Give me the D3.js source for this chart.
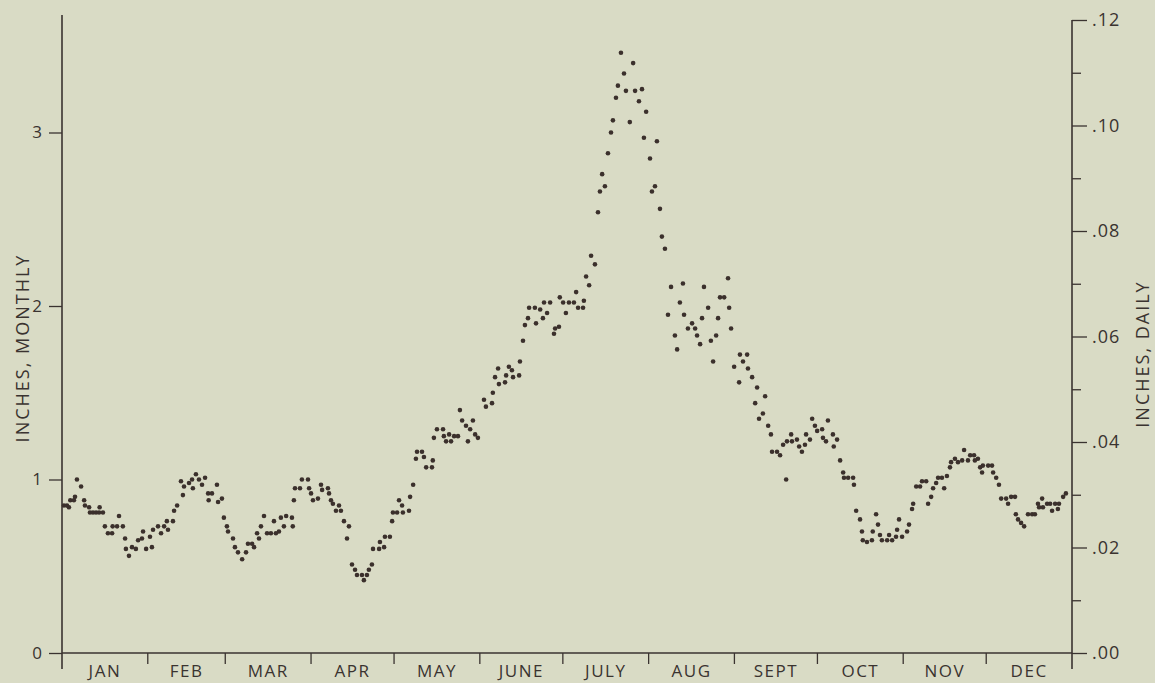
<!DOCTYPE html>
<html>
<head>
<meta charset="utf-8">
<script src="https://cdn.jsdelivr.net/npm/d3@7"></script>
<style>
  html, body { margin: 0; padding: 0; background: #d9dbc5; }
  svg { display: block; }
  text { font-family: "Open Sans", "DejaVu Sans", sans-serif; fill: #3a3330; }
</style>
</head>
<body>
<svg id="chart" width="1155" height="683"></svg>
<script>
// Day of year (position) for each plotted dot
const days = [
  0.7,1.8,2.5,3.0,4.3,4.7,5.4,6.9,8.0,8.3,9.8,10.1,11.2,12.3,13.4,13.6,14.8,15.5,16.6,18.1,18.3,19.9,20.6,22.0,22.8,23.1,24.2,25.3,26.7,27.5,28.9,29.3,30.4,31.8,32.5,32.9,34.7,35.8,36.9,37.9,38.3,40.1,40.5,41.6,43.0,43.7,44.1,45.9,47.0,47.3,48.4,49.5,
  50.6,51.7,52.8,53.0,54.2,56.0,56.4,57.8,58.5,59.6,60.0,61.8,62.5,63.6,65.1,66.5,67.2,68.7,69.4,70.5,71.2,71.9,73.0,74.1,75.5,76.6,77.3,78.4,79.1,80.2,81.0,83.1,83.4,83.8,84.2,86.0,86.7,88.9,89.3,90.0,90.7,92.5,93.6,94.0,96.1,96.5,97.2,97.9,99.0,100.1,
  100.8,101.9,103.0,103.7,104.8,105.9,106.6,108.4,109.1,110.2,110.9,112.0,112.4,114.6,114.9,116.4,116.7,118.5,119.3,119.6,121.1,121.8,122.9,123.2,125.4,125.8,126.9,127.9,128.3,130.1,130.8,131.6,133.7,134.0,134.4,135.5,137.7,138.0,138.8,139.9,140.6,141.7,143.1,143.8,144.6,146.0,146.7,147.5,148.5,149.3,150.3,
  152.5,153.2,155.4,155.7,156.5,157.6,157.9,160.1,160.5,161.5,162.6,163.0,165.2,165.5,166.6,167.3,168.4,168.8,170.9,171.3,172.8,173.8,174.2,175.3,176.4,177.8,178.2,179.6,179.9,
  181.1,182.1,183.2,185.0,185.8,186.5,188.3,188.6,189.4,190.5,191.2,192.6,193.7,194.4,195.2,196.2,197.3,198.4,199.1,200.2,200.9,202.0,203.1,203.8,205.2,206.4,207.1,208.5,209.6,210.3,211.1,212.5,213.2,214.3,215.0,216.1,
  216.8,217.9,219.0,220.1,221.5,222.3,223.3,224.4,224.8,226.2,227.7,228.8,229.5,230.6,231.3,232.0,233.5,234.5,235.3,236.4,237.1,237.8,239.3,240.7,241.1,241.8,242.9,244.7,245.0,246.1,247.6,247.9,249.4,250.5,251.2,251.9,
  253.3,254.1,255.2,256.2,256.6,258.4,259.5,260.6,261.7,262.0,263.5,263.8,265.6,266.4,267.4,268.5,268.9,270.3,271.1,272.1,272.9,274.7,275.0,276.1,276.8,278.6,278.9,280.1,281.2,282.3,282.6,284.1,285.9,286.2,287.0,288.4,289.1,289.4,290.9,292.7,293.0,294.2,294.9,295.6,296.3,298.2,298.9,300.0,301.4,301.8,302.5,
  303.6,305.4,306.1,307.2,307.6,308.7,310.1,310.8,312.3,313.0,314.1,314.8,315.9,316.6,318.0,318.8,319.8,320.9,321.3,322.7,323.8,325.3,326.0,327.4,328.2,329.6,329.9,331.0,331.8,332.5,332.8,334.7,336.1,336.5,337.6,338.6,339.4,341.2,341.9,343.0,344.4,344.7,345.5,346.6,347.7,349.1,350.6,351.6,352.7,353.1,354.2,354.5,356.0,357.1,357.8,358.9,359.9,360.3,361.8,362.8
];

// Precipitation, inches on the monthly scale (left axis)
const monthly = [
  .85,.85,.84,.88,.88,.90,1.00,.96,.88,.85,.84,.81,.81,.81,.81,.84,.81,.73,.69,.69,.73,.73,.79,.73,.66,.60,.56,.61,.60,.65,.66,.70,.60,.67,.61,.71,.73,.69,.73,.76,.71,.76,.82,.85,.99,.91,.96,.98,1.00,.95,1.03,1.00,
  .97,1.01,.92,.88,.92,.97,.87,.89,.78,.73,.70,.66,.61,.58,.54,.58,.63,.63,.61,.69,.66,.73,.79,.69,.69,.76,.69,.70,.78,.73,.79,.78,.73,.88,.95,.95,1.00,1.00,.95,.92,.88,.89,.97,.94,.95,.92,.88,.86,.82,.85,
  .82,.76,.66,.73,.51,.48,.45,.45,.42,.45,.48,.51,.60,.60,.64,.61,.67,.67,.76,.81,.81,.88,.85,.81,.82,.90,.97,1.12,1.16,1.16,1.13,1.07,1.07,1.11,1.24,1.29,1.29,1.25,1.22,1.26,1.22,1.25,1.25,1.40,1.34,1.31,1.22,1.29,1.34,1.26,1.24,
  1.46,1.42,1.44,1.50,1.59,1.64,1.55,1.56,1.60,1.65,1.63,1.59,1.60,1.68,1.80,1.89,1.93,1.99,1.99,1.90,1.98,1.93,2.02,1.96,2.02,1.84,1.87,1.88,2.05,
  2.02,1.96,2.02,2.02,2.08,1.99,1.99,2.03,2.17,2.12,2.29,2.24,2.54,2.66,2.76,2.69,2.88,3.00,3.07,3.20,3.27,3.46,3.34,3.24,3.06,3.40,3.24,3.18,3.25,2.97,3.12,2.85,2.66,2.69,2.95,2.56,
  2.40,2.33,1.95,2.11,1.83,1.75,2.02,2.13,1.95,1.87,1.90,1.87,1.83,1.78,1.93,2.11,1.99,1.80,1.68,1.83,1.93,2.05,2.05,2.16,1.99,1.87,1.65,1.56,1.72,1.68,1.72,1.64,1.59,1.44,1.53,1.35,
  1.38,1.48,1.31,1.26,1.16,1.16,1.14,1.20,1.00,1.22,1.26,1.22,1.23,1.19,1.16,1.20,1.26,1.23,1.35,1.31,1.28,1.29,1.24,1.22,1.34,1.26,1.19,1.23,1.11,1.04,1.01,1.01,1.01,.97,.82,.77,.70,.65,.64,.65,.70,.80,.74,.68,.65,.65,.68,.65,.67,.71,.77,
  .67,.70,.74,.83,.86,.96,.96,.99,.99,.86,.90,.95,.98,1.01,1.01,.95,1.02,1.07,1.10,1.12,1.10,1.11,1.17,1.11,1.14,1.14,1.11,1.12,1.07,1.04,1.08,1.08,1.08,1.04,1.01,.97,.89,.89,.86,.90,.90,.80,.77,.75,.73,.80,.80,.80,.86,.84,.89,.84,.86,.86,.82,.86,.83,.86,.90,.92
];

const months = ["JAN", "FEB", "MAR", "APR", "MAY", "JUNE", "JULY", "AUG", "SEPT", "OCT", "NOV", "DEC"];
const monthLengths = [31, 28, 31, 30, 31, 30, 31, 31, 30, 31, 30, 31];
const monthlyTicks = [0, 1, 2, 3];
const dailyTicks = [0, .01, .02, .03, .04, .05, .06, .07, .08, .09, .10, .11, .12];

const ink = "#3a3330";
const left = 62, right = 1072, base = 653;

const svg = d3.select("#chart");

// Scales: days across, monthly inches on the left, daily inches on the right
const x = d3.scaleLinear().domain([0, 365]).range([left, right]);
const yMonthly = d3.scaleLinear().domain([0, 3]).range([base, base - 3 * 173.5]);
const yDaily = d3.scaleLinear().domain([0, .12]).range([base, 20]);

// Month boundaries (cumulative days)
const bounds = d3.cumsum(monthLengths);
const starts = [0, ...bounds.slice(0, -1)];
const isMajor = (d) => Math.round(d * 100) % 2 === 0;

// Baseline
svg.append("line")
  .attr("x1", left).attr("x2", right)
  .attr("y1", base).attr("y2", base)
  .attr("stroke", ink).attr("stroke-width", 1.5);

// Month divider ticks
svg.append("g")
  .selectAll("line")
  .data(bounds.slice(0, -1))
  .join("line")
  .attr("x1", (d) => x(d)).attr("x2", (d) => x(d))
  .attr("y1", base).attr("y2", base + 11)
  .attr("stroke", ink).attr("stroke-width", 1.3);

// Month labels
svg.append("g")
  .selectAll("text")
  .data(months)
  .join("text")
  .attr("x", (d, i) => x((starts[i] + bounds[i]) / 2))
  .attr("y", 677)
  .attr("text-anchor", "middle")
  .style("font-size", "17px")
  .style("letter-spacing", "1.5px")
  .text((d) => d);

// Left axis
const leftAxis = svg.append("g")
  .attr("transform", `translate(${left},0)`)
  .call(d3.axisLeft(yMonthly).tickValues(monthlyTicks).tickSize(13).tickPadding(7).tickFormat(d3.format("d")));
leftAxis.select(".domain").remove();
leftAxis.selectAll("line").attr("stroke", ink).attr("stroke-width", 1.3);
leftAxis.selectAll("text").style("font-size", "17px").attr("fill", ink).style("font-family", "'Open Sans', sans-serif");
svg.append("line")
  .attr("x1", left).attr("x2", left)
  .attr("y1", 15).attr("y2", base + 16)
  .attr("stroke", ink).attr("stroke-width", 1.6);

// Right axis: long ticks with labels on even hundredths, short ones between
const rightAxis = svg.append("g")
  .attr("transform", `translate(${right},0)`)
  .call(d3.axisRight(yDaily).tickValues(dailyTicks).tickSize(15).tickPadding(5)
    .tickFormat((d) => (isMajor(d) ? d3.format(".2f")(d).replace(/^0/, "") : "")));
rightAxis.select(".domain").remove();
rightAxis.selectAll("line").attr("stroke", ink).attr("stroke-width", 1.3);
rightAxis.selectAll(".tick").filter((d) => !isMajor(d)).select("line").attr("x2", 9);
rightAxis.selectAll("text")
  .style("font-size", "18px")
  .style("letter-spacing", "1px")
  .attr("fill", ink)
  .style("font-family", "'Open Sans', sans-serif");
svg.append("line")
  .attr("x1", right).attr("x2", right)
  .attr("y1", yDaily(.12)).attr("y2", base + 16)
  .attr("stroke", ink).attr("stroke-width", 1.6);

// Axis titles
svg.append("text")
  .attr("transform", "translate(29,348) rotate(-90)")
  .attr("text-anchor", "middle")
  .style("font-size", "18px")
  .style("letter-spacing", "2px")
  .text("INCHES, MONTHLY");

svg.append("text")
  .attr("transform", "translate(1149,354) rotate(-90)")
  .attr("text-anchor", "middle")
  .style("font-size", "18px")
  .style("letter-spacing", "2px")
  .text("INCHES, DAILY");

// Daily dots
svg.append("g")
  .selectAll("circle")
  .data(monthly)
  .join("circle")
  .attr("cx", (d, i) => x(days[i]))
  .attr("cy", (d) => yMonthly(d))
  .attr("r", 2.3)
  .attr("fill", "#3b302c");
</script>
</body>
</html>
